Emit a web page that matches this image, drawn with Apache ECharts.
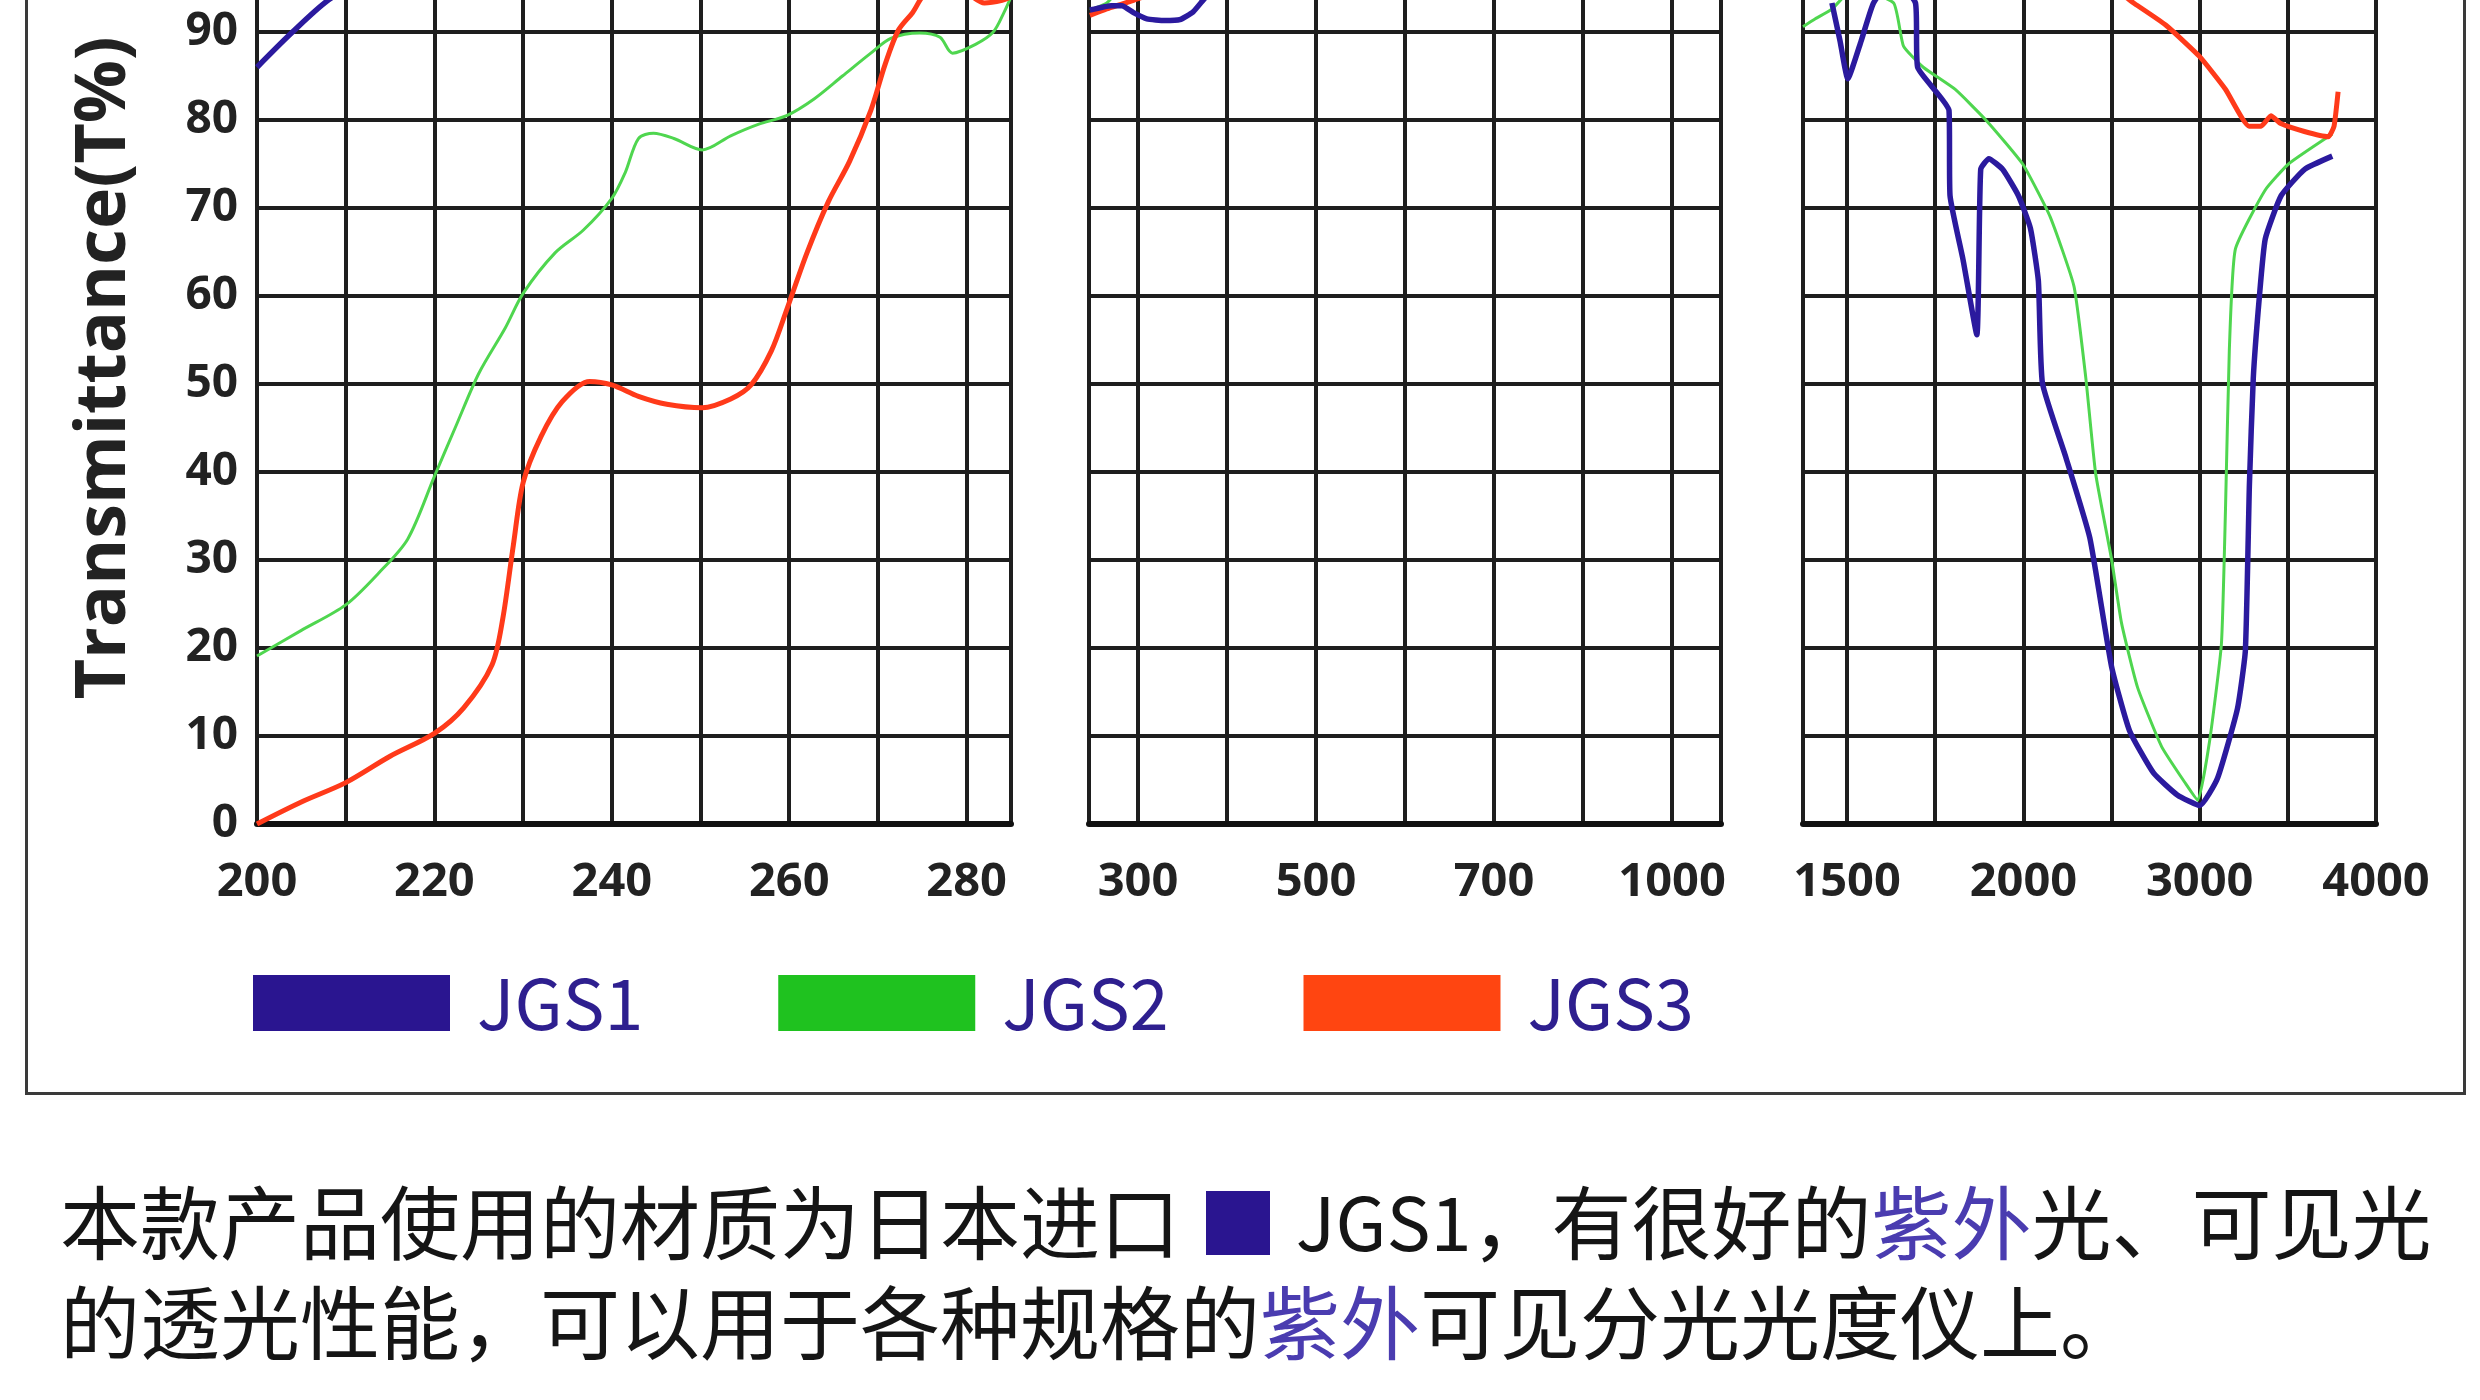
<!DOCTYPE html>
<html><head><meta charset="utf-8">
<script src="https://cdn.jsdelivr.net/npm/echarts@6/dist/echarts.min.js"></script>
<style>html,body{margin:0;padding:0;background:#fff}#c{width:2480px;height:1400px}</style>
</head><body><div id="c"></div>
<script>
// ---- tick definitions ----
const yTicks = [0,10,20,30,40,50,60,70,80,90];
const yTop = 93.64; // value at the top edge of the (cropped) picture
const panel2Ticks = [300, 400, 500, 600, 700, 850, 1000];
const panel2Labels = ['300', '', '500', '', '700', '', '1000'];
const panel3Ticks = [1500, 1750, 2000, 2500, 3000, 3500, 4000];
const panel3Labels = ['1500', '', '2000', '', '3000', '', '4000'];
const seriesNames = ['JGS1', 'JGS2', 'JGS3'];

// ---- data: [wavelength nm, transmittance %] ----
const jgs1Panel1 = [[200,86],[204,90],[208,93.6],[212,96]];
const jgs2Panel1 = [[200,19.1],[205,22],[210,24.9],[213.7,28.5],[217,32.4],[220,39.5],[222.5,45.4],[225,51.2],[228,56.4],[230,60.3],[233.6,64.9],[236.8,67.5],[240,71.1],[241.5,74],[243,77.9],[244.7,78.5],[247,77.9],[250.2,76.6],[253.4,78.2],[256.5,79.5],[259.7,80.5],[262.8,82.4],[266,85],[269.2,87.6],[271.5,89.3],[274.7,89.9],[277,89.4],[278.4,87.6],[281,88.6],[283,90],[284.2,92.2],[285,94]];
const jgs3Panel1 = [[200,0],[205,2.5],[210,4.7],[215,7.7],[220,10.3],[223.3,13.2],[226.5,18.1],[227.7,23.3],[228.9,31.7],[230,38.8],[232,44],[234.4,48],[237.5,50.3],[240,49.9],[243,48.6],[246.2,47.7],[250.2,47.3],[253.4,48.3],[255.7,49.9],[258,53.8],[259.7,58.4],[262,64.9],[264.4,70.7],[266.8,75.3],[269.2,81.1],[270.8,86.3],[272.3,90.2],[273.9,92.2],[275.5,94.5],[279,95],[282,93.3],[284,93.6],[285,94]];

const jgs1Panel2 = [[246,92.5],[270,93],[282,93.0],[295,92.2],[310,91.5],[330,91.3],[347,91.4],[362,92.3],[373,93.6],[385,95]];
const jgs2Panel2 = [[246,92.5],[265,93.3],[280,95]];
const jgs3Panel2 = [[246,91.9],[270,92.8],[295,93.6],[320,94.4],[380,94.15],[570,94.15],[620,94.6]];

const jgs1Panel3 = [[1457,93.3],[1480,89],[1502,84.7],[1540,89],[1575,93.3],[1630,96],[1694,93.3],[1700,86.0],[1789,81.1],[1792,71.4],[1829,64.1],[1868,55.6],[1879,74.4],[1902,75.6],[1941,74.4],[1986,71.4],[2040,67.7],[2085,61.7],[2108,50.1],[2242,41.6],[2377,32.5],[2500,17.9],[2602,10.6],[2738,5.8],[2873,3.3],[3000,2.1],[3101,5.2],[3214,13.1],[3259,19.7],[3282,38.6],[3304,50.7],[3338,59.8],[3372,66.5],[3462,71.4],[3595,74.4],[3752,75.9]];
const jgs2Panel3 = [[1375,90.6],[1410,91.5],[1457,92.6],[1520,95],[1632,93.3],[1660,88.4],[1716,86],[1806,83.5],[1896,79.9],[1998,75.0],[2152,69],[2287,61.1],[2354,50.7],[2410,39.8],[2500,30.1],[2557,22.8],[2648,15.5],[2784,8.8],[2920,4.6],[2989,2.7],[3056,9.4],[3123,20.4],[3146,35.5],[3168,53.8],[3202,65.3],[3370,72],[3504,75],[3752,78.4]];
const jgs3Panel3 = [[1375,96],[2500,95],[2625,93.3],[2807,90.8],[3000,87.2],[3146,83.5],[3280,79.3],[3348,79.3],[3404,80.5],[3460,79.6],[3594,78.7],[3729,78.1],[3762,79.3],[3785,83.2]];

// ---- styles ----
const swatchColors = ['#2a1590', '#1fc21f', '#ff4511'];
const lineColors = ['#2b1a9e', '#4fd64f', '#ff3a1a'];
const lineWidths = [5.5, 3, 5];
const gridColor = '#1e1e1e';
const numFont = '"Open Sans", sans-serif';

// piecewise position along a broken (non-uniform) axis: cell index between tick values
function toCell(ticks, wl) {
  let i = 0;
  if (wl >= ticks[ticks.length - 1]) i = ticks.length - 2;
  else { while (i < ticks.length - 2 && wl > ticks[i + 1]) i++; }
  return i + (wl - ticks[i]) / (ticks[i + 1] - ticks[i]);
}
const mapPanel = (ticks, arr) => arr.map(p => [toCell(ticks, p[0]), p[1]]);
const cellIdx = ticks => ticks.map((t, i) => i);

const panelData = [
  [jgs1Panel1, jgs2Panel1, jgs3Panel1],
  [mapPanel(panel2Ticks, jgs1Panel2), mapPanel(panel2Ticks, jgs2Panel2), mapPanel(panel2Ticks, jgs3Panel2)],
  [mapPanel(panel3Ticks, jgs1Panel3), mapPanel(panel3Ticks, jgs2Panel3), mapPanel(panel3Ticks, jgs3Panel3)]
];

const grids = [
  {left: 257, top: 0, width: 754, height: 824},
  {left: 1089, top: 0, width: 632, height: 824},
  {left: 1803, top: 0, width: 573, height: 824}
];

const xLabelStyle = {fontFamily: numFont, fontWeight: 'bold', fontSize: 47, color: '#222', margin: 35};
const splitStyle = {show: true, lineStyle: {color: gridColor, width: 4}};
const bottomLine = {show: true, onZero: false, lineStyle: {color: '#111', width: 6}};

const xAxes = [
  {type: 'value', gridIndex: 0, min: 200, max: 285, interval: 10,
   axisLine: bottomLine, axisTick: {show: false},
   splitLine: splitStyle,
   axisLabel: Object.assign({}, xLabelStyle, {showMaxLabel: false, formatter: v => (v % 20 === 0 && v <= 280) ? String(v) : ''})},
  {type: 'value', gridIndex: 1, min: -0.55, max: 6.55,
   axisLine: bottomLine,
   axisTick: {show: false, customValues: cellIdx(panel2Ticks)},
   splitLine: splitStyle,
   axisLabel: Object.assign({}, xLabelStyle, {customValues: cellIdx(panel2Ticks).filter(i => panel2Labels[i]), formatter: v => panel2Labels[Math.round(v)] || ''})},
  {type: 'value', gridIndex: 2, min: -0.5, max: 6,
   axisLine: bottomLine,
   axisTick: {show: false, customValues: cellIdx(panel3Ticks)},
   splitLine: splitStyle,
   axisLabel: Object.assign({}, xLabelStyle, {customValues: cellIdx(panel3Ticks).filter(i => panel3Labels[i]), formatter: v => panel3Labels[Math.round(v)] || ''})}
];

const yAxes = [];
for (let g = 0; g < 3; g++) {
  yAxes.push({
    type: 'value', gridIndex: g, min: 0, max: yTop, position: 'left',
    axisLine: {show: true, onZero: false, lineStyle: {color: gridColor, width: 4}},
    axisTick: {show: false, customValues: yTicks},
    splitLine: splitStyle,
    axisLabel: g === 0 ? {show: true, customValues: yTicks, fontFamily: numFont, fontWeight: 'bold', fontSize: 46, color: '#222', margin: 19} : {show: false},
    name: g === 0 ? 'Transmittance(T%)' : '',
    nameLocation: 'middle', nameRotate: 90, nameGap: 117,
    nameTextStyle: {fontFamily: '"Open Sans", sans-serif', fontWeight: 'bold', fontSize: 70, color: '#222', padding: [0, 0, 0, 88]}
  });
  yAxes.push({
    type: 'value', gridIndex: g, min: 0, max: yTop, position: 'right',
    axisLine: {show: true, onZero: false, lineStyle: {color: gridColor, width: 4}},
    axisTick: {show: false}, splitLine: {show: false}, axisLabel: {show: false}
  });
}

const series = [];
for (let g = 0; g < 3; g++) {
  for (let s = 0; s < 3; s++) {
    series.push({
      type: 'line', name: seriesNames[s], xAxisIndex: g, yAxisIndex: 2 * g,
      data: panelData[g][s], showSymbol: false, smooth: g === 0 ? 0.3 : 0.15,
      clip: true, z: 5 + (s === 0 ? 2 : (s === 2 ? 1 : 0)),
      itemStyle: {color: swatchColors[s]},
      lineStyle: {color: lineColors[s], width: lineWidths[s]},
      emphasis: {disabled: true}
    });
  }
}

const cjk = '"Noto Sans CJK SC", sans-serif';
const chart = echarts.init(document.getElementById('c'), null, {renderer: 'canvas'});
chart.setOption({
  backgroundColor: '#ffffff',
  animation: false,
  grid: grids,
  xAxis: xAxes,
  yAxis: yAxes,
  legend: {
    data: seriesNames, left: 253, top: 968, padding: 0,
    icon: 'rect', itemWidth: 197, itemHeight: 56, itemGap: 135,
    textStyle: {fontFamily: cjk, fontSize: 70, color: '#2e1f8f', padding: [0, 0, 0, 22]}
  },
  graphic: [
    {type: 'rect', left: 24, top: -20, z: -1, silent: true,
     shape: {width: 2438, height: 1111},
     style: {fill: null, stroke: '#3a3a3a', lineWidth: 3}},
    {type: 'text', left: 60, top: 1173, silent: true,
     style: {
       text: '本款产品使用的材质为日本进口 {sq|■} {j|JGS1}，有很好的{p|紫外}光、可见光\n的透光性能，可以用于各种规格的{p|紫外}可见分光光度仪上。',
       fontFamily: cjk, fontSize: 80, lineHeight: 100, fill: '#151515',
       rich: {
         sq: {fontFamily: cjk, fontSize: 80, lineHeight: 100, fill: '#2a1590', color: '#2a1590'},
         j: {fontFamily: cjk, fontSize: 74, lineHeight: 100, fill: '#151515', color: '#151515'},
         p: {fontFamily: cjk, fontSize: 80, lineHeight: 100, fill: '#4a3cb0', color: '#4a3cb0'}
       }
     }}
  ],
  series: series
});
</script></body></html>
